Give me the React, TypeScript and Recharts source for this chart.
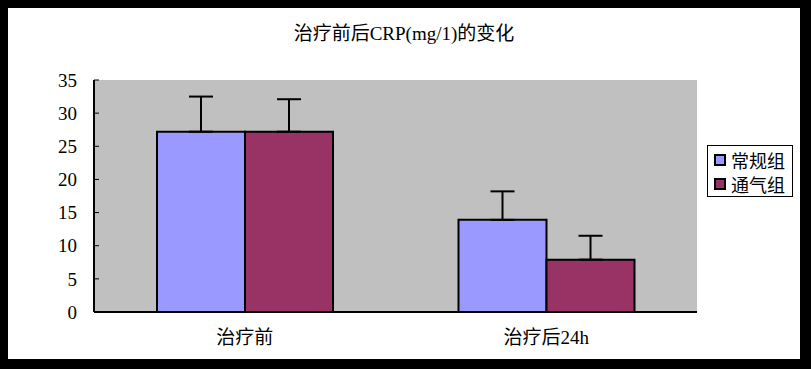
import React from "react";
import { Bar, BarChart, CartesianGrid, ErrorBar, XAxis, YAxis } from "recharts";

const categories = ["治疗前", "治疗后24h"];
const seriesNames = ["常规组", "通气组"];
const normalValues = [27.2, 13.9];
const normalErrors = [5.3, 4.3];
const ventValues = [27.2, 7.9];
const ventErrors = [4.9, 3.6];
const yTicks = [0, 5, 10, 15, 20, 25, 30, 35];

const COLORS = ["#9999FF", "#993366"];
const FONT = "Liberation Serif, Noto Sans CJK SC, serif";

const data = categories.map((name, i) => ({
  name,
  normal: normalValues[i],
  normalErr: [0, normalErrors[i]],
  vent: ventValues[i],
  ventErr: [0, ventErrors[i]],
}));

export default function App() {
  return (
    <div
      style={{
        position: "fixed",
        left: 0,
        top: 0,
        width: 811,
        height: 369,
        background: "#000",
      }}
    >
      <div
        style={{
          position: "absolute",
          left: 8,
          top: 8,
          width: 792,
          height: 351,
          background: "#fff",
          fontFamily: FONT,
        }}
      >
        <div
          style={{
            position: "absolute",
            left: 0,
            width: 792,
            top: 10,
            textAlign: "center",
            fontSize: 19,
            color: "#000",
          }}
        >
          治疗前后CRP(mg/1)的变化
        </div>
        <BarChart
          width={792}
          height={351}
          data={data}
          margin={{ top: 72, right: 103, left: 0, bottom: 0 }}
          barCategoryGap={63}
          barGap={0}
          style={{ fontFamily: FONT }}
        >
          <CartesianGrid fill="#C0C0C0" horizontal={false} vertical={false} />
          <XAxis
            dataKey="name"
            height={47}
            tickLine={false}
            axisLine={{ stroke: "#000", strokeWidth: 2 }}
            tick={{ fill: "#000", fontSize: 19 }}
            dy={11}
          />
          <XAxis
            xAxisId="top"
            dataKey="name"
            orientation="top"
            height={0}
            tick={false}
            tickLine={false}
            axisLine={{ stroke: "#808080", strokeWidth: 2 }}
          />
          <YAxis
            width={86}
            domain={[0, 35]}
            ticks={yTicks}
            interval={0}
            tickSize={-5}
            tickMargin={22}
            tickLine={{ stroke: "#000" }}
            axisLine={{ stroke: "#000", strokeWidth: 2 }}
            tick={{ fill: "#000", fontSize: 19 }}
          />
          <YAxis
            yAxisId="right"
            orientation="right"
            width={0}
            domain={[0, 35]}
            tick={false}
            tickLine={false}
            axisLine={{ stroke: "#808080", strokeWidth: 2 }}
          />
          <Bar
            dataKey="normal"
            name={seriesNames[0]}
            fill={COLORS[0]}
            stroke="#000"
            strokeWidth={2}
            isAnimationActive={false}
          >
            <ErrorBar dataKey="normalErr" width={12} stroke="#000" strokeWidth={2} direction="y" />
          </Bar>
          <Bar
            dataKey="vent"
            name={seriesNames[1]}
            fill={COLORS[1]}
            stroke="#000"
            strokeWidth={2}
            isAnimationActive={false}
          >
            <ErrorBar dataKey="ventErr" width={12} stroke="#000" strokeWidth={2} direction="y" />
          </Bar>
        </BarChart>
        <div
          style={{
            position: "absolute",
            left: 699,
            top: 137,
            width: 86,
            height: 52,
            border: "1px solid #000",
            boxSizing: "border-box",
            padding: "2px 0 0 6px",
            fontSize: 18,
            lineHeight: "24px",
          }}
        >
          {seriesNames.map((n, i) => (
            <div key={n} style={{ display: "flex", alignItems: "center" }}>
              <span
                style={{
                  width: 8,
                  height: 8,
                  border: "2px solid #000",
                  background: COLORS[i],
                  marginRight: 5,
                  display: "inline-block",
                }}
              />
              <span style={{ fontFamily: "Noto Sans CJK SC, sans-serif" }}>{n}</span>
            </div>
          ))}
        </div>
      </div>
    </div>
  );
}
